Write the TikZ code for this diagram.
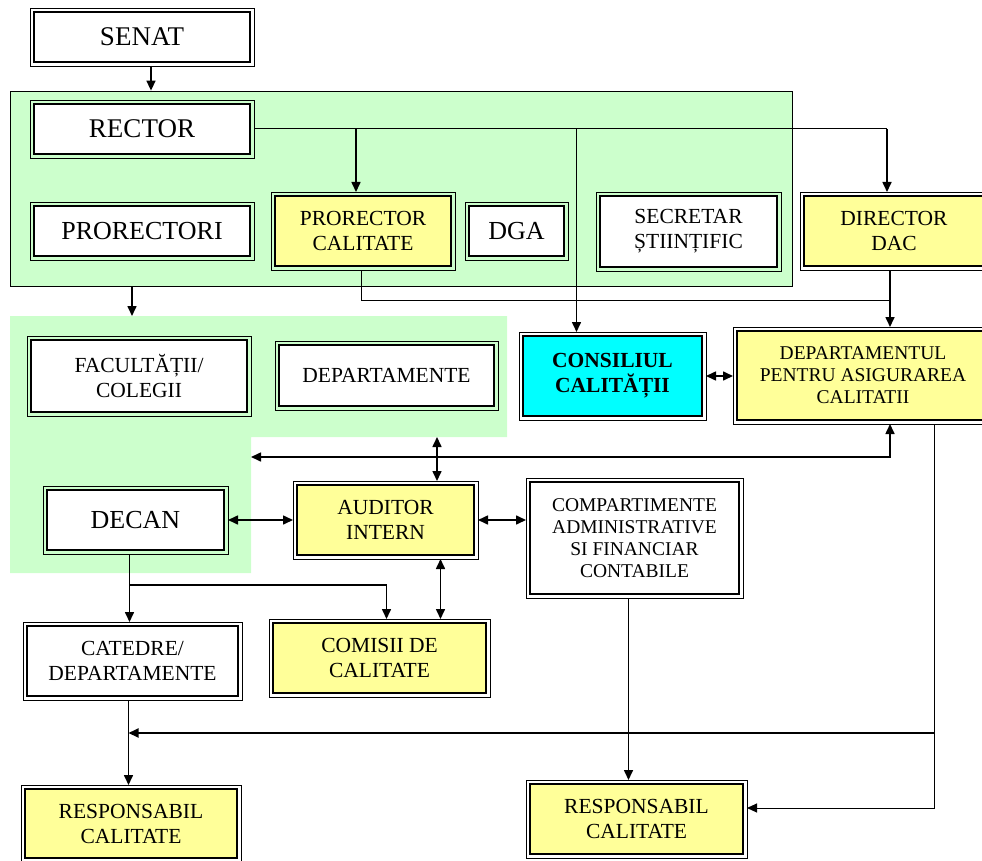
\documentclass[tikz,border=0pt]{standalone}
\usepackage{fontspec}
\setmainfont{Liberation Serif}
\usetikzlibrary{arrows.meta}
\definecolor{verde}{HTML}{CCFFCC}
\definecolor{galben}{HTML}{FFFF99}
\definecolor{cian}{HTML}{00FFFF}

\begin{document}
\begin{tikzpicture}[x=1pt, y=-1pt,
    box/.style={draw, line width=2pt, fill=white, align=center, inner sep=0pt, outer sep=4pt, font=\fontsize{21.5}{25}\selectfont},
    mare/.style={font=\fontsize{27}{30}\selectfont},
    mediu/.style={font=\fontsize{26}{30}\selectfont},
    mic/.style={font=\fontsize{19.5}{22}\selectfont},
    arr/.style={-{Triangle[length=10pt,width=9pt]}, line width=1.6pt},
    dbl/.style={{Triangle[length=10pt,width=9pt]}-{Triangle[length=10pt,width=9pt]}, line width=1.6pt}]
    \useasboundingbox (0,0) rectangle (982,861);
    \clip (0,0) rectangle (982,861);

    \node[draw, line width=0.8pt, fill=verde, inner sep=0pt, minimum width=782pt, minimum height=195pt] (conducere) at (401,188.5) {};
    \fill[verde] (10,316) -- (507,316) -- (507,437) -- (251,437) -- (251,573) -- (10,573) -- cycle;

    \node[box, mare, minimum width=216pt, minimum height=50pt] (senat) at (142,37) {SENAT};
    \node[box, mare, minimum width=216pt, minimum height=50pt] (rector) at (142,129) {RECTOR};
    \node[box, mediu, minimum width=216pt, minimum height=50pt] (prorectori) at (142,231) {PRORECTORI};
    \node[box, fill=galben, minimum width=176pt, minimum height=70pt] (prorcal) at (363,231) {PRORECTOR\\CALITATE};
    \node[box, mediu, minimum width=95pt, minimum height=50pt] (dga) at (516.5,231) {DGA};
    \node[box, minimum width=177pt, minimum height=71pt] (secretar) at (688.5,231.5) {SECRETAR\\ȘTIINȚIFIC};
    \node[box, fill=galben, minimum width=180pt, minimum height=70pt] (director) at (894,231) {DIRECTOR\\DAC};

    \node[box, fill=cian, font=\fontsize{21.5}{25}\selectfont\bfseries, minimum width=179pt, minimum height=80pt] (consiliu) at (612.5,376) {CONSILIUL\\CALITĂȚII};
    \node[box, mic, fill=galben, minimum width=252pt, minimum height=89pt] (dac) at (863,375.5) {DEPARTAMENTUL\\PENTRU ASIGURAREA\\CALITATII};
    \node[box, minimum width=216pt, minimum height=72pt] (facultati) at (139,376) {FACULTĂȚII/\\COLEGII};
    \node[box, minimum width=215pt, minimum height=61pt] (departamente) at (386.5,375.5) {DEPARTAMENTE};

    \node[box, mediu, minimum width=177pt, minimum height=60pt] (decan) at (135.5,520) {DECAN};
    \node[box, fill=galben, minimum width=177pt, minimum height=70pt] (auditor) at (385.5,520) {AUDITOR\\INTERN};
    \node[box, mic, minimum width=209pt, minimum height=112pt] (compart) at (634.5,538) {COMPARTIMENTE\\ADMINISTRATIVE\\SI FINANCIAR\\CONTABILE};

    \node[box, minimum width=211pt, minimum height=70pt] (catedre) at (132.5,661) {CATEDRE/\\DEPARTAMENTE};
    \node[box, fill=galben, minimum width=213pt, minimum height=70pt] (comisii) at (379.5,658) {COMISII DE\\CALITATE};
    \node[box, fill=galben, minimum width=212pt, minimum height=69pt] (resp1) at (131,823.5) {RESPONSABIL\\CALITATE};
    \node[box, fill=galben, minimum width=213pt, minimum height=70pt] (resp2) at (636.5,819) {RESPONSABIL\\CALITATE};

    \foreach \n in {senat,rector,prorectori,prorcal,dga,secretar,director,consiliu,dac,facultati,departamente,decan,auditor,compart,catedre,comisii,resp1,resp2}
        \draw[line width=0.8pt] (\n.north west) rectangle (\n.south east);

    \coordinate (facTop) at (132,316);
    \coordinate (facBot) at (437,437);
    \coordinate (decanEdge) at (251,457);
    \coordinate (mijloc) at (0,300);
    \coordinate (jos) at (934,733);

    \draw[arr] ([xshift=9pt]senat.south) -- ([xshift=9pt]senat.south |- conducere.north);
    \draw[line width=1pt] (rector.east) -- ([xshift=-7pt]director.north |- rector.east);
    \draw[arr] ([xshift=-7pt]prorcal.north |- rector.east) -- ([xshift=-7pt]prorcal.north);
    \draw[arr] ([xshift=-36pt]consiliu.north |- rector.east) -- ([xshift=-36pt]consiliu.north);
    \draw[arr] ([xshift=-7pt]director.north |- rector.east) -- ([xshift=-7pt]director.north);
    \draw[arr] (conducere.south -| facTop) -- (facTop);

    \draw[line width=1pt] ([xshift=-2pt]prorcal.south) |- ([xshift=-4pt]director.south |- mijloc);
    \draw[arr] ([xshift=-4pt]director.south) -- ([xshift=-4pt]director.south |- dac.north);
    \draw[dbl] (consiliu.east) -- (consiliu.east -| dac.west);

    \draw[dbl] (decanEdge) -| ([xshift=27pt]dac.south);
    \draw[dbl] (facBot) -- (facBot |- auditor.north);
    \draw[dbl] (decan.east) -- (auditor.west);
    \draw[dbl] (auditor.east) -- (auditor.east -| compart.west);
    \draw[dbl] ([xshift=55pt]auditor.south) -- ([xshift=55pt]auditor.south |- comisii.north);

    \draw[arr] ([xshift=-6pt]decan.south) -- ([xshift=-6pt]decan.south |- catedre.north);
    \draw[arr] ([xshift=-6pt]decan.south) ++(0,31) -| ([xshift=7pt]comisii.north);
    \draw[arr] ([xshift=-4pt]catedre.south) -- ([xshift=-4pt]catedre.south |- resp1.north);
    \draw[arr] ([xshift=-6pt]compart.south) -- ([xshift=-6pt]compart.south |- resp2.north);
    \draw[line width=1pt, -{Triangle[length=10pt,width=9pt]}] ([xshift=71pt]dac.south) |- ([yshift=11pt]resp2.east);
    \draw[arr, line width=2pt] (jos) -- ([xshift=-4pt]catedre.south |- jos);
\end{tikzpicture}
\end{document}
